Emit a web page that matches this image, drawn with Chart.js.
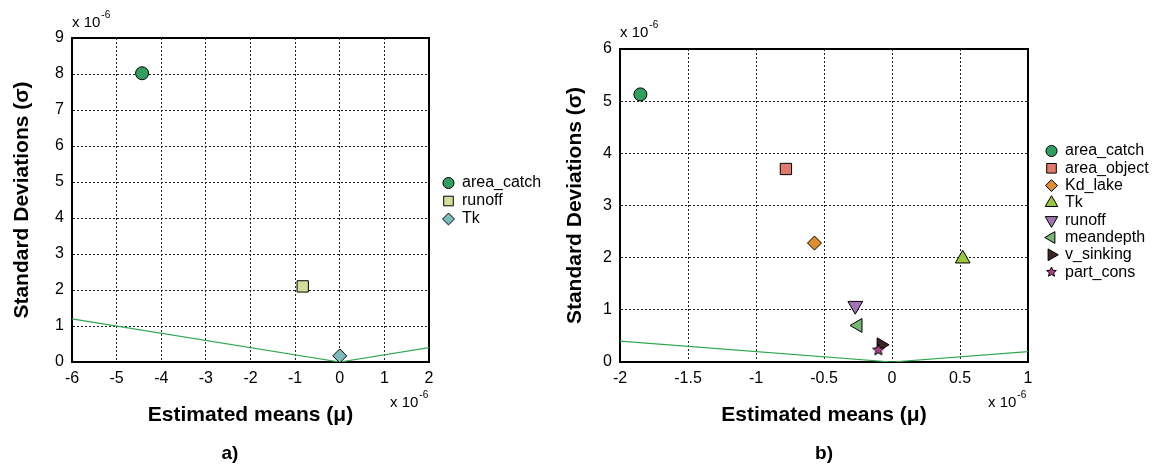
<!DOCTYPE html>
<html><head><meta charset="utf-8">
<script src="https://cdn.jsdelivr.net/npm/chart.js@4.4.1/dist/chart.umd.min.js"></script>
<style>
html,body{margin:0;padding:0;background:#fff;width:1160px;height:465px;overflow:hidden}
#ca{position:absolute;left:0;top:0}
#cb{position:absolute;left:560px;top:0}
</style></head><body>
<canvas id="ca" width="560" height="465"></canvas>
<canvas id="cb" width="600" height="465"></canvas>
<script>
// ---------- Panel a) data (units of 1e-6) ----------
const namesA  = ['area_catch', 'runoff', 'Tk'];
const meansA  = [-4.43, -0.83, 0.0];
const sdA     = [8.02, 2.1, 0.17];
const colorsA = ['#2f9e5f', '#d6dc9a', '#7cbcbc'];
const stylesA = ['circle', 'rect', 'rectRot'];
const radiiA  = [6.5, 8, 7];
const rotA    = [0, 0, 0];
const xTicksA = [-6, -5, -4, -3, -2, -1, 0, 1, 2];
const yTicksA = [0, 1, 2, 3, 4, 5, 6, 7, 8, 9];
const refXA   = [-6, 0, 2];
const refYA   = [1.2, 0, 0.4];

// ---------- Panel b) data (units of 1e-6) ----------
const namesB  = ['area_catch', 'area_object', 'Kd_lake', 'Tk', 'runoff', 'meandepth', 'v_sinking', 'part_cons'];
const meansB  = [-1.85, -0.78, -0.57, 0.52, -0.27, -0.25, -0.08, -0.10];
const sdB     = [5.13, 3.70, 2.28, 1.98, 1.08, 0.70, 0.33, 0.23];
const colorsB = ['#2f9e5f', '#e07b6b', '#e08c30', '#98c83a', '#a374b3', '#74b874', '#3d2525', '#b0408f'];
const stylesB = ['circle', 'rect', 'rectRot', 'triangle', 'triangle', 'triangle', 'triangle', 'star5'];
const radiiB  = [6.5, 8, 7, 8.5, 8.5, 8, 8, 6];
const rotB    = [0, 0, 0, 0, 180, -90, 90, 0];
const xTicksB = [-2, -1.5, -1, -0.5, 0, 0.5, 1];
const yTicksB = [0, 1, 2, 3, 4, 5, 6];
const refXB   = [-2, 0, 1];
const refYB   = [0.4, 0, 0.2];

const FONT = 'Liberation Sans, Arial, Helvetica, sans-serif';
const LINE_GREEN = '#2fa84f';
const TITLE_SIZE = 21;
const TITLE_HALF = TITLE_SIZE * 1.2 / 2;

function starPath(ctx, cx, cy, R) {
  const r = R * 0.45;
  ctx.beginPath();
  for (let i = 0; i < 10; i++) {
    const a = -Math.PI / 2 + i * Math.PI / 5;
    const rr = i % 2 === 0 ? R : r;
    const x = cx + Math.cos(a) * rr, y = cy + Math.sin(a) * rr;
    if (i === 0) ctx.moveTo(x, y); else ctx.lineTo(x, y);
  }
  ctx.closePath();
}
function starCanvas(R, fill) {
  const c = document.createElement('canvas');
  const s = Math.ceil(R * 2 + 4);
  c.width = s; c.height = s;
  const g = c.getContext('2d');
  starPath(g, s / 2, s / 2, R);
  g.fillStyle = fill; g.fill();
  g.lineWidth = 1; g.strokeStyle = '#000'; g.stroke();
  return c;
}

function styleOf(st, r, col) { return st === 'star5' ? starCanvas(r, col) : st; }

function buildDatasets(names, means, sds, colors, styles, radii, rots, refX, refY) {
  const ds = names.map((n, i) => ({
    label: n,
    data: [{x: means[i], y: sds[i]}],
    backgroundColor: colors[i],
    borderColor: '#000',
    borderWidth: 1,
    pointStyle: styleOf(styles[i], radii[i], colors[i]),
    pointRadius: radii[i],
    pointRotation: rots[i],
    showLine: false,
    order: styles[i] === 'star5' ? -1 : i
  }));
  ds.push({
    label: '_ref',
    data: refX.map((x, i) => ({x: x, y: refY[i]})),
    showLine: true,
    borderColor: LINE_GREEN,
    borderWidth: 1.2,
    pointRadius: 0,
    fill: false,
    order: 100
  });
  return ds;
}

function drawMarker(ctx, style, rot, r, x, y, col) {
  ctx.save();
  ctx.fillStyle = col; ctx.strokeStyle = '#000'; ctx.lineWidth = 1;
  if (style === 'star5') {
    starPath(ctx, x, y, r); ctx.fill(); ctx.stroke();
  } else {
    Chart.helpers.drawPoint(ctx, {pointStyle: style, rotation: rot, radius: r, borderWidth: 1}, x, y);
  }
  ctx.restore();
}

function sciLabel(ctx, x, yMid) {
  ctx.save();
  ctx.fillStyle = '#000';
  ctx.textBaseline = 'middle';
  ctx.textAlign = 'left';
  ctx.font = '15px ' + FONT;
  ctx.fillText('x 10', x, yMid);
  const w = ctx.measureText('x 10').width;
  ctx.font = '10px ' + FONT;
  ctx.fillText('-6', x + w + 1, yMid - 8);
  ctx.restore();
}

function makeDecor(cfg) {
  return {
    id: 'decor',
    beforeDatasetsDraw(chart) {
      const a = chart.chartArea, ctx = chart.ctx;
      ctx.save();
      ctx.strokeStyle = '#000'; ctx.lineWidth = 2;
      ctx.strokeRect(a.left, a.top, a.right - a.left, a.bottom - a.top);
      ctx.restore();
    },
    afterDraw(chart) {
      const ctx = chart.ctx;
      cfg.names.forEach((n, i) => {
        const y = cfg.legY + i * cfg.legStep;
        drawMarker(ctx, cfg.styles[i], cfg.rots[i], cfg.legR[i], cfg.legX, y, cfg.colors[i]);
        ctx.save();
        ctx.fillStyle = '#000';
        ctx.font = '16px ' + FONT;
        ctx.textBaseline = 'middle';
        ctx.textAlign = 'left';
        ctx.fillText(n, cfg.legTextX, y);
        ctx.restore();
      });
      sciLabel(ctx, cfg.sciTop[0], cfg.sciTop[1]);
      sciLabel(ctx, cfg.sciBot[0], cfg.sciBot[1]);
      ctx.save();
      ctx.fillStyle = '#000';
      ctx.font = 'bold 19px ' + FONT;
      ctx.textAlign = 'center';
      ctx.textBaseline = 'middle';
      ctx.fillText(cfg.panel, cfg.panelPos[0], cfg.panelPos[1]);
      ctx.restore();
    }
  };
}

function makeChart(id, o) {
  return new Chart(document.getElementById(id), {
    type: 'scatter',
    data: {datasets: buildDatasets(o.names, o.means, o.sds, o.colors, o.styles, o.radii, o.rots, o.refX, o.refY)},
    options: {
      responsive: false,
      animation: false,
      devicePixelRatio: 1,
      layout: {padding: {top: o.top, right: o.padRight, bottom: 0, left: 0}},
      plugins: {legend: {display: false}, tooltip: {enabled: false}},
      scales: {
        x: {
          type: 'linear', min: o.xTicks[0], max: o.xTicks[o.xTicks.length - 1],
          afterBuildTicks: s => { s.ticks = o.xTicks.map(v => ({value: v})); },
          afterFit: s => { s.height = 465 - o.bottom; },
          ticks: {color: '#000', font: {size: 16, family: FONT}, padding: 7, maxRotation: 0, autoSkip: false,
                  callback: v => String(v)},
          grid: {color: '#222', lineWidth: 1, drawTicks: false},
          border: {display: true, color: '#000', width: 2, dash: [2, 2]},
          title: {display: true, text: 'Estimated means (μ)', color: '#000',
                  font: {size: TITLE_SIZE, weight: 'bold', family: FONT}, padding: {top: 0, bottom: 465 - 415 - TITLE_HALF}}
        },
        y: {
          type: 'linear', min: o.yTicks[0], max: o.yTicks[o.yTicks.length - 1],
          afterBuildTicks: s => { s.ticks = o.yTicks.map(v => ({value: v})); },
          afterFit: s => { s.width = o.left; },
          ticks: {color: '#000', font: {size: 16, family: FONT}, padding: 8, autoSkip: false,
                  callback: v => String(v)},
          grid: {color: '#222', lineWidth: 1, drawTicks: false},
          border: {display: true, color: '#000', width: 2, dash: [2, 2]},
          title: {display: true, text: 'Standard Deviations (σ)', color: '#000',
                  font: {size: TITLE_SIZE, weight: 'bold', family: FONT}, padding: {top: Math.max(0, o.yTitleX - TITLE_HALF), bottom: 0}}
        }
      }
    },
    plugins: [makeDecor({
      names: o.names, styles: o.styles, rots: o.rots, colors: o.colors,
      legR: o.radii.map(r => r * 0.85),
      legX: o.legX, legTextX: o.legTextX, legY: o.legY, legStep: o.legStep,
      sciTop: o.sciTop, sciBot: o.sciBot, panel: o.panel, panelPos: o.panelPos
    })]
  });
}

makeChart('ca', {
  names: namesA, means: meansA, sds: sdA, colors: colorsA, styles: stylesA, radii: radiiA, rots: rotA,
  refX: refXA, refY: refYA, xTicks: xTicksA, yTicks: yTicksA,
  top: 38, bottom: 362, left: 72, padRight: 560 - 429, yTitleX: 22,
  legX: 448.5, legTextX: 462, legY: 183, legStep: 18,
  sciTop: [72, 23], sciBot: [390, 403], panel: 'a)', panelPos: [230, 454]
});

makeChart('cb', {
  names: namesB, means: meansB, sds: sdB, colors: colorsB, styles: stylesB, radii: radiiB, rots: rotB,
  refX: refXB, refY: refYB, xTicks: xTicksB, yTicks: yTicksB,
  top: 49, bottom: 362, left: 60, padRight: 600 - 468, yTitleX: 15,
  legX: 491.5, legTextX: 505, legY: 151, legStep: 17.3,
  sciTop: [60, 33], sciBot: [428, 403], panel: 'b)', panelPos: [264, 454]
});
</script>
</body></html>
